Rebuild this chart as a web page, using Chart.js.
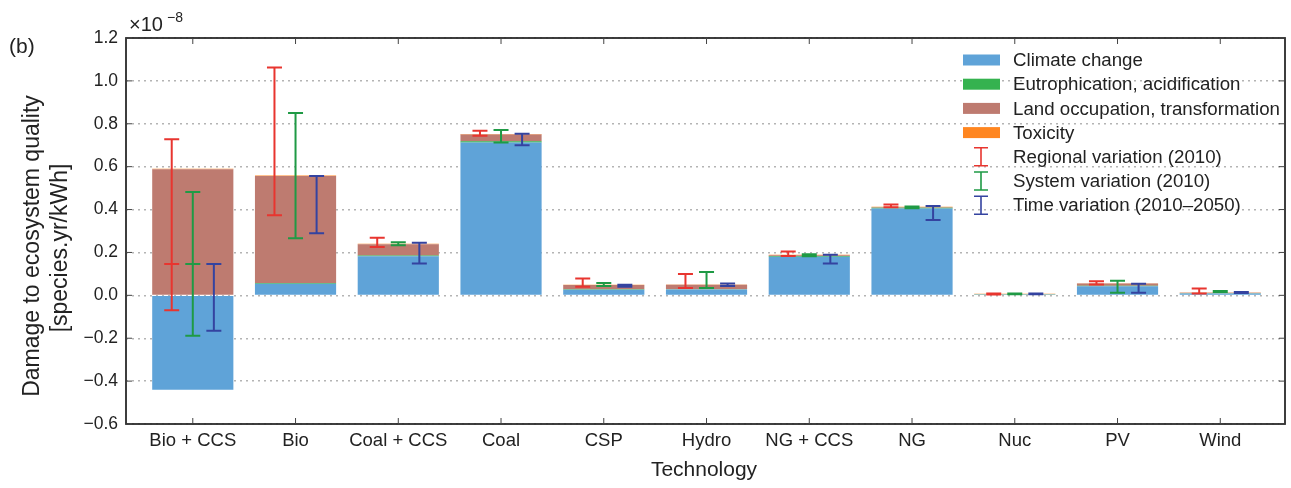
<!DOCTYPE html>
<html>
<head>
<meta charset="utf-8">
<script src="https://cdn.jsdelivr.net/npm/chart.js@4.4.1/dist/chart.umd.min.js"></script>
<style>
  html, body { margin: 0; padding: 0; background: #fff; }
  #wrap { width: 1291px; height: 488px; position: relative; }
</style>
</head>
<body>
<div id="wrap"><canvas id="chart"></canvas></div>
<script>
// categories and stacked impact components (x 1e-8 species.yr/kWh)
const categories = ['Bio + CCS', 'Bio', 'Coal + CCS', 'Coal', 'CSP', 'Hydro', 'NG + CCS', 'NG', 'Nuc', 'PV', 'Wind'];
const climateChange = [-0.44, 0.054, 0.182, 0.713, 0.026, 0.027, 0.180, 0.405, 0.004, 0.042, 0.008];
const eutrophication = [0.003, 0.003, 0.004, 0.005, 0.002, 0.001, 0.003, 0.003, 0.001, 0.003, 0.002];
const landOccupation = [0.585, 0.500, 0.052, 0.032, 0.020, 0.021, 0.004, 0.003, 0.001, 0.010, 0.002];
const toxicity = [0.002, 0.002, 0.002, 0.002, 0.001, 0.001, 0.002, 0.002, 0.001, 0.001, 0.001];

// error bar ranges
const regionalLow  = [-0.069, 0.373, 0.225, 0.744, 0.040, 0.034, 0.183, 0.411, 0.004, 0.051, 0.008];
const regionalHigh = [0.728, 1.062, 0.268, 0.767, 0.079, 0.100, 0.204, 0.424, 0.009, 0.066, 0.032];
const systemLow    = [-0.188, 0.266, 0.234, 0.713, 0.043, 0.034, 0.182, 0.406, 0.005, 0.012, 0.015];
const systemHigh   = [0.482, 0.850, 0.248, 0.771, 0.057, 0.109, 0.192, 0.414, 0.009, 0.068, 0.020];
const timeLow      = [-0.165, 0.290, 0.149, 0.700, 0.040, 0.043, 0.149, 0.351, 0.005, 0.012, 0.011];
const timeHigh     = [0.146, 0.557, 0.245, 0.754, 0.049, 0.055, 0.189, 0.417, 0.008, 0.054, 0.015];
const errCenter    = [0.146, null, null, null, null, null, null, null, null, null, null];

const yTicks = [-0.6, -0.4, -0.2, 0.0, 0.2, 0.4, 0.6, 0.8, 1.0, 1.2];

const BLUE = '#5fa3d8', GREEN = '#35b24f', BROWN = '#be7b70', ORANGE = '#ff8620';
const ERR_RED = '#e8352f', ERR_GREEN = '#1f9a45', ERR_BLUE = '#3443a0';
const FONT = '"Liberation Sans", Arial, sans-serif';

const errorSets = [
  { low: regionalLow, high: regionalHigh, color: ERR_RED, dx: -0.205 },
  { low: systemLow, high: systemHigh, color: ERR_GREEN, dx: 0 },
  { low: timeLow, high: timeHigh, color: ERR_BLUE, dx: 0.205 }
];

function toPoints(arr) {
  return arr.map((v, i) => ({ x: i, y: v }));
}

function fmt(v) {
  const r = Math.round(v * 10) / 10;
  return (r < 0 ? '\u2212' : '') + Math.abs(r).toFixed(1);
}

const barOpts = { borderWidth: 0, barPercentage: 0.79, categoryPercentage: 1 };

const decorations = {
  id: 'decorations',
  afterDatasetsDraw(chart) {
    const ctx = chart.ctx;
    const xs = chart.scales.x, ys = chart.scales.y;
    const cap = 7.5;
    ctx.save();
    ctx.lineWidth = 2;
    errorSets.forEach(set => {
      ctx.strokeStyle = set.color;
      categories.forEach((c, i) => {
        const x = xs.getPixelForValue(i + set.dx);
        const y1 = ys.getPixelForValue(set.low[i]);
        const y2 = ys.getPixelForValue(set.high[i]);
        ctx.beginPath();
        ctx.moveTo(x, y1); ctx.lineTo(x, y2);
        ctx.moveTo(x - cap, y1); ctx.lineTo(x + cap, y1);
        ctx.moveTo(x - cap, y2); ctx.lineTo(x + cap, y2);
        if (errCenter[i] !== null) {
          const yc = ys.getPixelForValue(errCenter[i]);
          ctx.moveTo(x - cap, yc); ctx.lineTo(x + cap, yc);
        }
        ctx.stroke();
      });
    });
    ctx.restore();
  },
  afterDraw(chart) {
    const ctx = chart.ctx;
    const a = chart.chartArea;
    const xs = chart.scales.x, ys = chart.scales.y;
    ctx.save();

    // frame
    ctx.strokeStyle = '#2a2a2a';
    ctx.lineWidth = 1.8;
    ctx.strokeRect(a.left, a.top, a.right - a.left, a.bottom - a.top);

    // inward ticks
    ctx.lineWidth = 1;
    ctx.strokeStyle = '#444';
    ctx.beginPath();
    yTicks.forEach(t => {
      const y = ys.getPixelForValue(t);
      ctx.moveTo(a.left, y); ctx.lineTo(a.left + 6, y);
      ctx.moveTo(a.right, y); ctx.lineTo(a.right - 6, y);
    });
    categories.forEach((c, i) => {
      const x = xs.getPixelForValue(i);
      ctx.moveTo(x, a.bottom); ctx.lineTo(x, a.bottom - 6);
      ctx.moveTo(x, a.top); ctx.lineTo(x, a.top + 6);
    });
    ctx.stroke();

    // texts
    ctx.fillStyle = '#222';
    ctx.textBaseline = 'alphabetic';
    ctx.textAlign = 'left';
    ctx.font = '21px ' + FONT;
    ctx.fillText('(b)', 9, 53);
    ctx.font = '20px ' + FONT;
    ctx.fillText('\u00d710', 129, 31);
    ctx.font = '14px ' + FONT;
    ctx.fillText('\u22128', 167, 22);

    ctx.textAlign = 'center';
    ctx.textBaseline = 'middle';
    ctx.font = '21px ' + FONT;
    ctx.fillText('Technology', 704, 470);

    ctx.font = '23px ' + FONT;
    ctx.save();
    ctx.translate(33, 246);
    ctx.rotate(-Math.PI / 2);
    ctx.fillText('Damage to ecosystem quality', 0, 0);
    ctx.restore();
    ctx.save();
    ctx.translate(61, 248);
    ctx.rotate(-Math.PI / 2);
    ctx.fillText('[species.yr/kWh]', 0, 0);
    ctx.restore();

    // legend
    const rows = [
      { label: 'Climate change', patch: BLUE },
      { label: 'Eutrophication, acidification', patch: GREEN },
      { label: 'Land occupation, transformation', patch: BROWN },
      { label: 'Toxicity', patch: ORANGE },
      { label: 'Regional variation (2010)', err: ERR_RED },
      { label: 'System variation (2010)', err: ERR_GREEN },
      { label: 'Time variation (2010\u20132050)', err: ERR_BLUE }
    ];
    ctx.font = '18.7px ' + FONT;
    ctx.textAlign = 'left';
    rows.forEach((r, k) => {
      const yc = 60 + k * 24.2;
      if (r.patch) {
        ctx.fillStyle = r.patch;
        ctx.fillRect(963, yc - 5.5, 37, 11);
      } else {
        ctx.strokeStyle = r.err;
        ctx.lineWidth = 1.6;
        ctx.beginPath();
        ctx.moveTo(981, yc - 9); ctx.lineTo(981, yc + 9);
        ctx.moveTo(974, yc - 9); ctx.lineTo(988, yc - 9);
        ctx.moveTo(974, yc + 9); ctx.lineTo(988, yc + 9);
        ctx.stroke();
      }
      ctx.fillStyle = '#222';
      ctx.fillText(r.label, 1013, yc + 1);
    });
    ctx.restore();
  }
};

new Chart(document.getElementById('chart'), {
  type: 'bar',
  data: {
    datasets: [
      Object.assign({ label: 'Climate change', data: toPoints(climateChange), backgroundColor: BLUE }, barOpts),
      Object.assign({ label: 'Eutrophication, acidification', data: toPoints(eutrophication), backgroundColor: GREEN }, barOpts),
      Object.assign({ label: 'Land occupation, transformation', data: toPoints(landOccupation), backgroundColor: BROWN }, barOpts),
      Object.assign({ label: 'Toxicity', data: toPoints(toxicity), backgroundColor: ORANGE }, barOpts)
    ]
  },
  options: {
    responsive: true,
    maintainAspectRatio: false,
    animation: false,
    layout: { padding: { left: 0, right: 6, top: 38, bottom: 0 } },
    plugins: {
      legend: { display: false },
      tooltip: { enabled: false }
    },
    scales: {
      x: {
        type: 'linear',
        stacked: true,
        offset: false,
        min: -0.65,
        max: 10.63,
        afterBuildTicks: s => { s.ticks = categories.map((c, i) => ({ value: i })); },
        afterFit: s => { s.height = 64; },
        grid: { display: false, drawTicks: false, offset: false },
        border: { display: false },
        ticks: {
          autoSkip: false,
          maxRotation: 0,
          padding: 6,
          color: '#222',
          font: { size: 18.5, family: FONT },
          callback: v => categories[v]
        }
      },
      y: {
        stacked: true,
        min: -0.6,
        max: 1.2,
        afterBuildTicks: s => { s.ticks = yTicks.map(v => ({ value: v })); },
        afterFit: s => { s.width = 126; },
        grid: { color: '#b4b4b4', lineWidth: 1.4, drawTicks: false },
        border: { display: false, dash: [2, 4] },
        ticks: {
          padding: 8,
          color: '#222',
          font: { size: 17.5, family: FONT },
          callback: v => fmt(v)
        }
      }
    }
  },
  plugins: [decorations]
});
</script>
</body>
</html>
